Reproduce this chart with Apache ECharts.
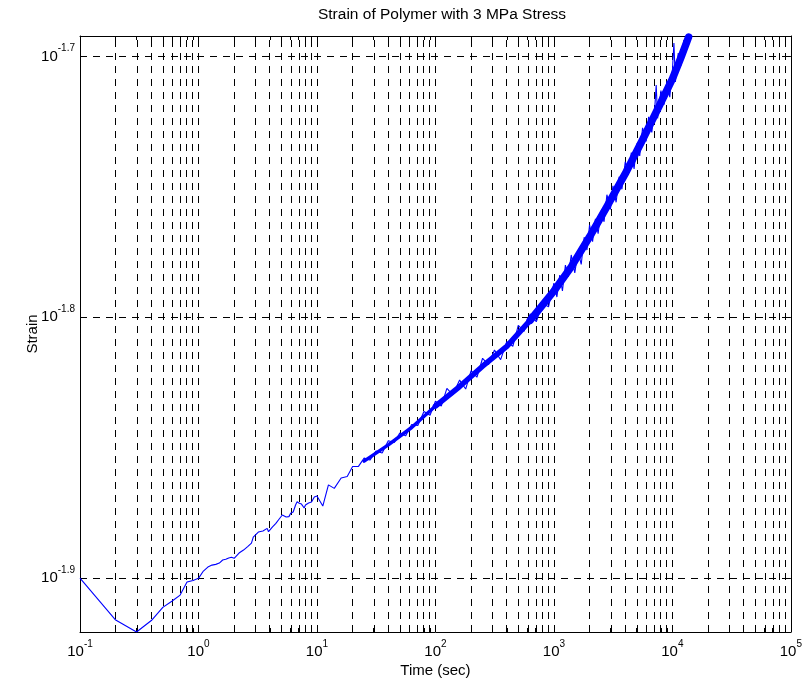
<!DOCTYPE html>
<html><head><meta charset="utf-8">
<script src="https://cdn.jsdelivr.net/npm/echarts@6/dist/echarts.min.js"></script>
<style>html,body{margin:0;padding:0;background:#fff}#c{width:805px;height:689px}</style>
</head><body><div id="c"></div>
<script>
// ---- texts ----
const titleText = 'Strain of Polymer with 3 MPa Stress';
const xName = 'Time (sec)';
const yName = 'Strain';
// ---- axis ticks (exponents of 10) ----
const xDecades = [-1, 0, 1, 2, 3, 4, 5];
const minorMults = [2, 3, 4, 5, 6, 7, 8, 9];
const yTickExps = [-1.9, -1.8, -1.7];
const yMin = 0.012, yMax = 0.02032;
// ---- data: time (s) and strain ----
const timeEarly = [0.1,0.2,0.3,0.4,0.5,0.6,0.7,0.8,0.9,1.0,1.1,1.2,1.3,1.4,1.5,1.6,1.7,1.8,1.9,2.0,2.2,2.4,2.6,2.8,2.9,3.0,3.2,3.5,3.8,3.9,4.2,4.5,4.8,5.1,5.5,5.8,6.0,6.3,6.6,6.8,7.1,7.4,7.8,8.0,8.5,9.0,9.5,10];
const strainEarly = [0.012586,0.012127,0.012000,0.012122,0.012264,0.012333,0.012398,0.012542,0.012559,0.012583,0.012664,0.012709,0.012731,0.012739,0.012754,0.012788,0.012796,0.012811,0.012819,0.012808,0.012867,0.012901,0.012941,0.012981,0.013050,0.013073,0.013108,0.013120,0.013151,0.013112,0.013166,0.013209,0.013260,0.013307,0.013284,0.013288,0.013327,0.013342,0.013425,0.013464,0.013445,0.013436,0.013389,0.013425,0.013448,0.013460,0.013520,0.013532];
const timeMid = [11.2,12.5,14,16,18,20,22.4,25,28,31.5,35.5,40,45,50,56,63,71,80,90,100,112,125,140,160,180,200,224,250,280,315,355,400,450,500,560,630,710,800,900,1000];
const strainMid = [0.013413,0.013666,0.013624,0.013750,0.013768,0.013889,0.013892,0.013993,0.013969,0.014082,0.014057,0.014209,0.014188,0.014306,0.014271,0.014415,0.014402,0.014581,0.014533,0.014714,0.014653,0.014882,0.014798,0.014992,0.014874,0.015117,0.015030,0.015284,0.015197,0.015395,0.015265,0.015511,0.015447,0.015736,0.015651,0.015895,0.015786,0.016044,0.015995,0.016335];
const timeLate = [1060,1120,1180,1250,1320,1400,1500,1600,1700,1800,1900,2000,2120,2240,2360,2500,2650,2800,3000,3150,3350,3550,3750,4000,4250,4500,4750,5000,5300,5600,6000,6300,6700,7100,7300,7500,8000,8500,9000,9500,10000,10300,10600,11200,11800,12500,13200,13700];
const strainLate = [0.016134,0.016451,0.016220,0.016597,0.016423,0.016745,0.016483,0.016794,0.016605,0.017010,0.016818,0.017197,0.016942,0.017290,0.017062,0.017413,0.017244,0.017661,0.017434,0.017800,0.017543,0.017944,0.017746,0.018183,0.017985,0.018332,0.018067,0.018478,0.018277,0.018737,0.018514,0.018918,0.018660,0.019065,0.019459,0.018894,0.019364,0.019123,0.019529,0.019251,0.019702,0.020195,0.019510,0.020017,0.019796,0.020248,0.020102,0.020317];
// centre of the dense noisy band
const timeBand = [25,40,63,100,160,250,400,630,1000,1400,2000,2800,4000,5600,8000,10000,11800,13200,13700];
const strainBand = [0.013956,0.014158,0.014377,0.014652,0.014907,0.015177,0.015445,0.015805,0.016220,0.016569,0.017016,0.017475,0.017992,0.018539,0.019160,0.019564,0.019936,0.020209,0.020302];

// ---- build ----
const L = Math.log10;
const FONT = "'Liberation Sans', Arial, Helvetica, sans-serif";
const toPts = (t, s) => t.map((v, i) => [L(v), L(s[i])]);
const curve = toPts(timeEarly, strainEarly).concat(toPts(timeMid, strainMid), toPts(timeLate, strainLate));
const band = toPts(timeBand, strainBand);
const bandPart = (t0, t1) => band.filter(p => p[0] >= L(t0) - 1e-9 && p[0] <= L(t1) + 1e-9);
const minorX = [];
xDecades.slice(0, -1).forEach(d => minorMults.forEach(m => minorX.push(d + L(m))));
const allX = xDecades.concat(minorX).sort((a, b) => a - b);
const gridStyle = { color: '#000', width: 1, type: [7, 6] };
const gridLines = allX.slice(1, -1).map(v => ({ xAxis: v })).concat(yTickExps.map(v => ({ yAxis: v })));
const rich = {
  b: { fontSize: 15, fontFamily: FONT, color: '#000' },
  s: { fontSize: 10, fontFamily: FONT, color: '#000', padding: [0, 0, 16, 0] }
};
const axCommon = {
  type: 'value',
  axisLine: { show: true, onZero: false, lineStyle: { color: '#000', width: 1 } },
  splitLine: { show: false }
};
const bandSeries = (pts, w, extra) => Object.assign({
  type: 'line', data: pts, xAxisIndex: 0, yAxisIndex: 0,
  showSymbol: false, symbol: 'none', z: 3, clip: true,
  lineStyle: { color: '#0000ff', width: w, cap: 'round', join: 'round' }
}, extra || {});
const chart = echarts.init(document.getElementById('c'), null, { renderer: 'canvas' });
chart.setOption({
  animation: false,
  backgroundColor: '#fff',
  title: {
    text: titleText, left: 437, top: 2, textAlign: 'center',
    textStyle: { fontSize: 15.5, fontWeight: 'normal', color: '#000', fontFamily: FONT }
  },
  grid: { left: 80, right: 11, top: 36, bottom: 57, show: false },
  xAxis: [
    Object.assign({}, axCommon, {
      position: 'bottom', min: xDecades[0], max: xDecades[xDecades.length - 1], interval: 1,
      name: xName, nameLocation: 'middle', nameGap: 31, nameMoveOverlap: false,
      nameTextStyle: { fontSize: 15, color: '#000', fontFamily: FONT },
      axisTick: { show: true, inside: true, length: 4, customValues: allX, lineStyle: { color: '#000' } },
      axisLabel: { show: true, margin: 7, customValues: xDecades, formatter: v => '{b|10}{s|' + Math.round(v) + '}', rich: rich }
    }),
    Object.assign({}, axCommon, {
      position: 'top', min: xDecades[0], max: xDecades[xDecades.length - 1], interval: 1,
      axisTick: { show: true, inside: true, length: 4, customValues: allX, lineStyle: { color: '#000' } },
      axisLabel: { show: false }
    })
  ],
  yAxis: [
    Object.assign({}, axCommon, {
      position: 'left', min: L(yMin), max: L(yMax),
      name: yName, nameLocation: 'middle', nameGap: 40, nameMoveOverlap: false,
      nameTextStyle: { fontSize: 15, color: '#000', fontFamily: FONT },
      axisTick: { show: true, inside: true, length: 5, customValues: yTickExps, lineStyle: { color: '#000' } },
      axisLabel: { show: true, margin: 5, customValues: yTickExps, formatter: v => '{b|10}{s|' + v.toFixed(1) + '}', rich: rich }
    }),
    Object.assign({}, axCommon, {
      position: 'right', min: L(yMin), max: L(yMax),
      axisTick: { show: true, inside: true, length: 5, customValues: yTickExps, lineStyle: { color: '#000' } },
      axisLabel: { show: false }
    })
  ],
  series: [
    bandSeries(bandPart(25, 160), 3.5, {
      markLine: {
        z: 1, silent: true, symbol: 'none', animation: false, label: { show: false },
        lineStyle: gridStyle, data: gridLines
      }
    }),
    bandSeries(bandPart(100, 1000), 5.5),
    bandSeries(bandPart(630, 13700), 7.5),
    {
      type: 'line', name: 'strain', data: curve, xAxisIndex: 0, yAxisIndex: 0,
      showSymbol: false, symbol: 'none', z: 4, clip: true, sampling: null,
      lineStyle: { color: '#0000ff', width: 1.1 }
    }
  ]
});
</script>
</body></html>
